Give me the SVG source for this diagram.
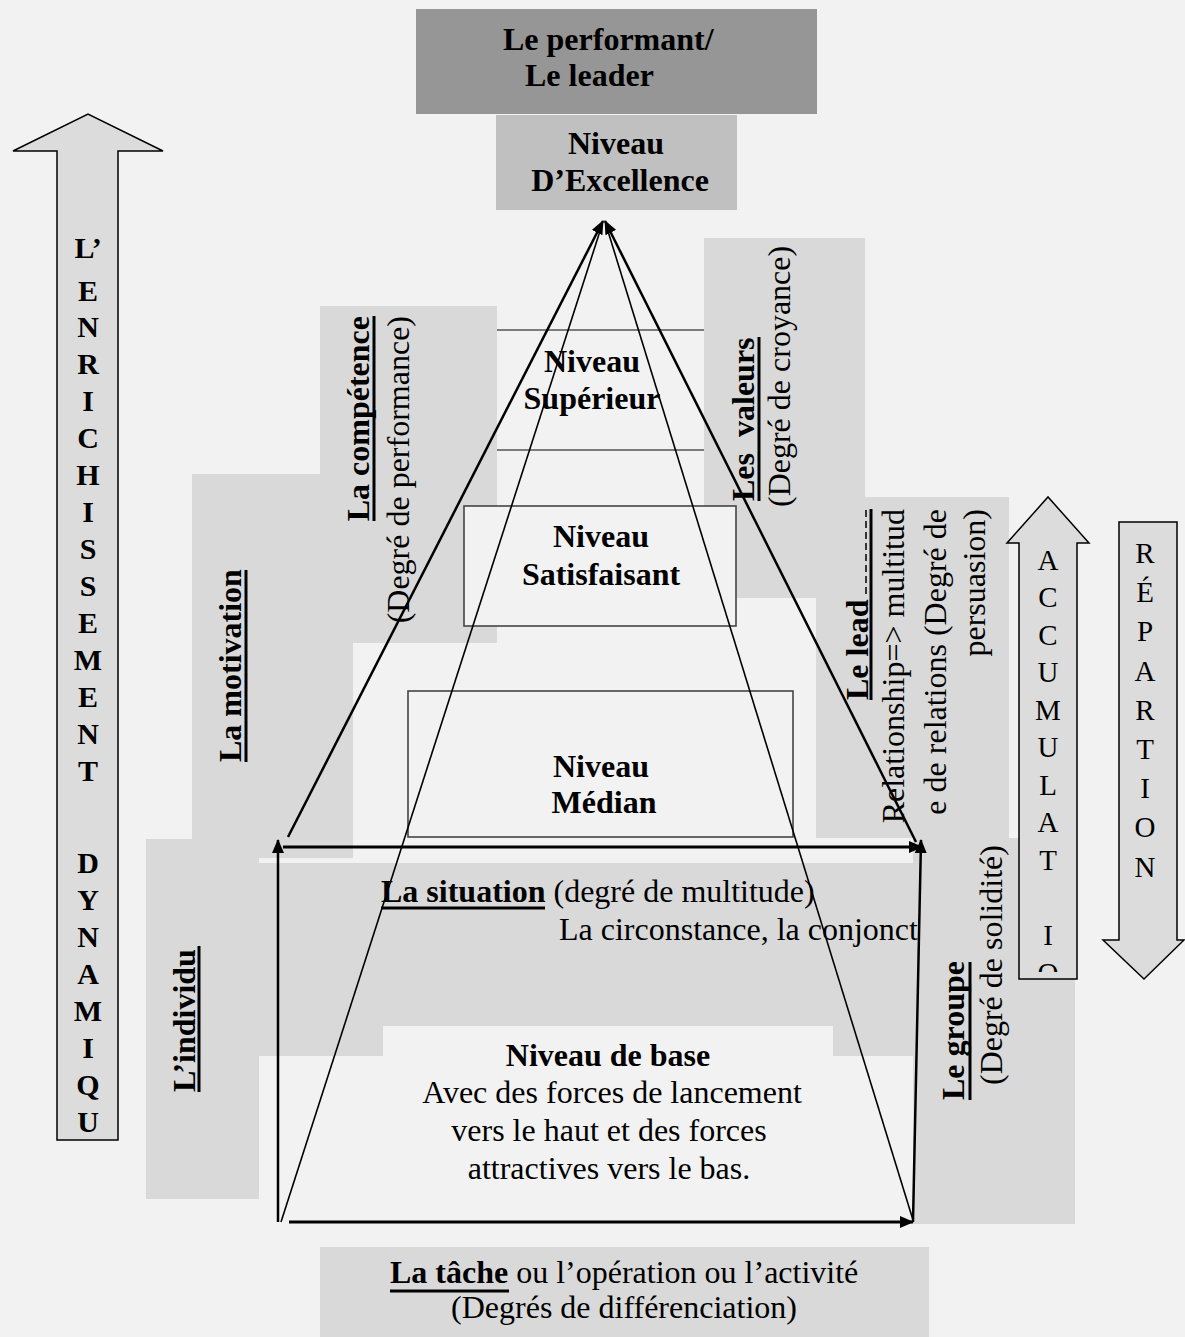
<svg xmlns="http://www.w3.org/2000/svg" width="1185" height="1337" viewBox="0 0 1185 1337">
<style>
.g{fill:#d9d9d9}
.b{font-family:"Liberation Serif","Times New Roman",serif;font-weight:bold;font-size:32px;fill:#000}
.r{font-family:"Liberation Serif","Times New Roman",serif;font-size:32px;fill:#000}
.c{text-anchor:middle}
.e{text-anchor:end}
.lb{font-family:"Liberation Serif","Times New Roman",serif;font-weight:bold;font-size:30px;text-anchor:middle}
.lr{font-family:"Liberation Serif","Times New Roman",serif;font-size:29px;text-anchor:middle}
.ul{stroke:#000;stroke-width:3}
.arr{fill:#dcdcdc;stroke:#000;stroke-width:1.5}
.lvl{fill:#f2f2f2;stroke:#444;stroke-width:1.6}
.k{stroke:#000;fill:none}
</style>
<defs>
<marker id="ah" viewBox="0 0 14 12" refX="13" refY="6" markerWidth="14" markerHeight="12" markerUnits="userSpaceOnUse" orient="auto">
<path d="M0,0 L14,6 L0,12 z" fill="#000"/>
</marker>
<clipPath id="accClip"><rect x="1020" y="540" width="56" height="432"/></clipPath>
</defs>
<rect width="1185" height="1337" fill="#f2f2f2"/>

<g id="regions">
<rect class="g" x="320" y="306" width="177" height="337"/>
<rect class="g" x="192" y="474" width="161" height="384"/>
<rect class="g" x="146" y="839" width="113" height="360"/>
<path class="g" d="M259,863 H914 V1056 H833 V1026 H383 V1056 H259 Z"/>
<rect class="g" x="704" y="238" width="161" height="360"/>
<rect class="g" x="816" y="497" width="193" height="341"/>
<rect class="g" x="913" y="838" width="162" height="386"/>
</g>

<g id="top-leader">
<rect x="416" y="9" width="401" height="105" fill="#969696"/>
<text class="b" x="503" y="50">Le performant/</text>
<text class="b" x="525" y="86">Le leader</text>
</g>

<g id="niveau-excellence">
<rect x="496" y="115" width="241" height="95" fill="#c0c0c0"/>
<text class="b c" x="616" y="154">Niveau</text>
<text class="b c" x="620" y="191">D’Excellence</text>
</g>

<g id="niveau-superieur">
<line x1="497" y1="330" x2="704" y2="330" stroke="#555" stroke-width="1.5"/>
<line x1="497" y1="450" x2="704" y2="450" stroke="#555" stroke-width="1.5"/>
<text class="b c" x="592" y="372">Niveau</text>
<text class="b c" x="592" y="409">Supérieur</text>
</g>

<g id="niveau-satisfaisant">
<rect class="lvl" x="464" y="506" width="272" height="120"/>
<text class="b c" x="601" y="547">Niveau</text>
<text class="b c" x="601" y="585">Satisfaisant</text>
</g>

<g id="niveau-median">
<rect class="lvl" x="408" y="691" width="385" height="146" stroke="#333" stroke-width="2"/>
<text class="b c" x="601" y="777">Niveau</text>
<text class="b c" x="604" y="813">Médian</text>
</g>

<g id="situation">
<text class="r" x="381" y="902"><tspan class="b">La situation</tspan> (degré de multitude)</text>
<line class="ul" x1="381" y1="908" x2="545" y2="908"/>
<text class="r" x="559" y="940">La circonstance, la conjonct</text>
</g>

<g id="niveau-base">
<text class="b c" x="608" y="1066">Niveau de base</text>
<text class="r c" x="612" y="1103">Avec des forces de lancement</text>
<text class="r c" x="609" y="1141">vers le haut et des forces</text>
<text class="r c" x="609" y="1179">attractives vers le bas.</text>
</g>

<g id="tache">
<rect class="g" x="320" y="1247" width="609" height="90"/>
<text class="r" x="390" y="1283"><tspan class="b">La tâche</tspan> ou l’opération ou l’activité</text>
<line class="ul" x1="390" y1="1291" x2="509" y2="1291"/>
<text class="r c" x="624" y="1318">(Degrés de différenciation)</text>
</g>

<g id="individu">
<text class="b" transform="translate(195,1092) rotate(-90)">L’individu</text>
<line class="ul" x1="199" y1="946" x2="199" y2="1092"/>
</g>

<g id="motivation">
<text class="b" transform="translate(241,762) rotate(-90)">La motivation</text>
<line class="ul" x1="246" y1="570" x2="246" y2="762"/>
</g>

<g id="competence">
<text class="b e" transform="translate(369,316) rotate(-90)">La compétence</text>
<line class="ul" x1="374" y1="316" x2="374" y2="521"/>
<text class="r e" transform="translate(409,316) rotate(-90)">(Degré de performance)</text>
</g>

<g id="valeurs">
<text class="b" xml:space="preserve" transform="translate(754,501) rotate(-90)">Les  valeurs</text>
<line class="ul" x1="759" y1="337" x2="759" y2="501"/>
<text class="r" transform="translate(790,507) rotate(-90)">(Degré de croyance)</text>
</g>

<g id="leadership">
<text class="b" transform="translate(868,700) rotate(-90)">Le lead</text>
<line class="ul" x1="871" y1="509" x2="871" y2="700"/>
<line x1="866" y1="510" x2="866" y2="598" stroke="#000" stroke-width="1.5" stroke-dasharray="7 4"/>
<text class="r e" transform="translate(904,509) rotate(-90)">Relationship=&gt; multitud</text>
<text class="r e" transform="translate(946,509) rotate(-90)">e de relations (Degré de</text>
<text class="r e" transform="translate(985,509) rotate(-90)">persuasion)</text>
</g>

<g id="groupe">
<text class="b" transform="translate(964,1100) rotate(-90)">Le groupe</text>
<line class="ul" x1="970" y1="962" x2="970" y2="1100"/>
<text class="r" transform="translate(1002,1085) rotate(-90)">(Degré de solidité)</text>
</g>

<g id="enrichissement-arrow">
<polygon class="arr" points="57,1140 57,151 13,151 88,114 163,151 118,151 118,1140"/>
<text class="lb" x="88" y="258">L’</text>
<text class="lb" x="88" y="301">E</text>
<text class="lb" x="88" y="337">N</text>
<text class="lb" x="88" y="374">R</text>
<text class="lb" x="88" y="411">I</text>
<text class="lb" x="88" y="448">C</text>
<text class="lb" x="88" y="485">H</text>
<text class="lb" x="88" y="522">I</text>
<text class="lb" x="88" y="559">S</text>
<text class="lb" x="88" y="596">S</text>
<text class="lb" x="88" y="633">E</text>
<text class="lb" x="88" y="670">M</text>
<text class="lb" x="88" y="707">E</text>
<text class="lb" x="88" y="744">N</text>
<text class="lb" x="88" y="781">T</text>
<text class="lb" x="88" y="873">D</text>
<text class="lb" x="88" y="910">Y</text>
<text class="lb" x="88" y="947">N</text>
<text class="lb" x="88" y="984">A</text>
<text class="lb" x="88" y="1021">M</text>
<text class="lb" x="88" y="1058">I</text>
<text class="lb" x="88" y="1095">Q</text>
<text class="lb" x="88" y="1132">U</text>
</g>

<g id="accumulation-arrow">
<polygon class="arr" points="1019,979 1019,543 1007,543 1048,497 1089,543 1077,543 1077,979"/>
<g clip-path="url(#accClip)">
<text class="lr" x="1048" y="570">A</text>
<text class="lr" x="1048" y="607">C</text>
<text class="lr" x="1048" y="645">C</text>
<text class="lr" x="1048" y="682">U</text>
<text class="lr" x="1048" y="720">M</text>
<text class="lr" x="1048" y="757">U</text>
<text class="lr" x="1048" y="795">L</text>
<text class="lr" x="1048" y="832">A</text>
<text class="lr" x="1048" y="870">T</text>
<text class="lr" x="1048" y="945">I</text>
<text class="lr" x="1048" y="983">O</text>
</g>
</g>

<g id="repartition-arrow">
<polygon class="arr" points="1119,522 1177,522 1177,940 1184,940 1144,979 1103,940 1119,940"/>
<text class="lr" x="1145" y="563">R</text>
<text class="lr" x="1145" y="602">É</text>
<text class="lr" x="1145" y="641">P</text>
<text class="lr" x="1145" y="681">A</text>
<text class="lr" x="1145" y="720">R</text>
<text class="lr" x="1145" y="759">T</text>
<text class="lr" x="1145" y="798">I</text>
<text class="lr" x="1145" y="837">O</text>
<text class="lr" x="1145" y="877">N</text>
</g>

<g id="connectors">
<line class="k" x1="288" y1="837" x2="603" y2="221" stroke-width="2.5" marker-end="url(#ah)"/>
<line class="k" x1="916" y1="842" x2="605" y2="221" stroke-width="2.5" marker-end="url(#ah)"/>
<line class="k" x1="281" y1="1222" x2="601" y2="228" stroke-width="1.6"/>
<line class="k" x1="913" y1="1220" x2="607" y2="228" stroke-width="1.6"/>
<line class="k" x1="283" y1="847" x2="922" y2="847" stroke-width="3" marker-end="url(#ah)"/>
<line class="k" x1="278" y1="1222" x2="278" y2="840" stroke-width="2.5" marker-end="url(#ah)"/>
<line class="k" x1="913" y1="1222" x2="921" y2="840" stroke-width="2.5" marker-end="url(#ah)"/>
<line class="k" x1="289" y1="1222" x2="913" y2="1222" stroke-width="3" marker-end="url(#ah)"/>
</g>
</svg>
